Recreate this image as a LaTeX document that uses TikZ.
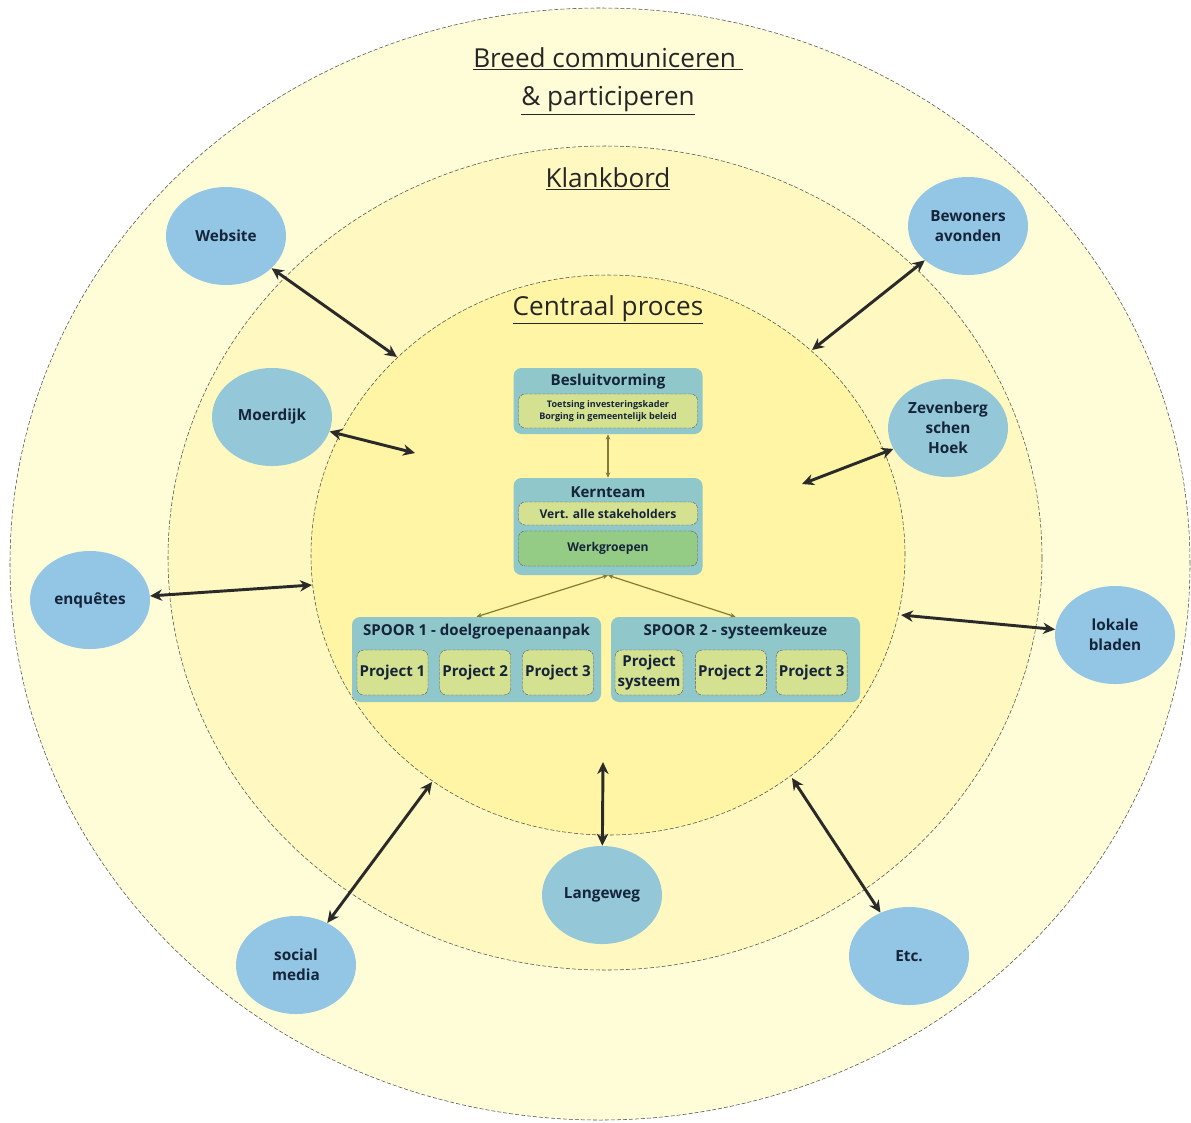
\documentclass[tikz,border=0pt]{standalone}
\usepackage{fontspec}
\setmainfont{Open Sans}
\usetikzlibrary{positioning}
\usetikzlibrary{shapes.geometric}
\usetikzlibrary{arrows.meta}
\definecolor{ringout}{HTML}{FFFDD8}
\definecolor{ringmid}{HTML}{FFF8C0}
\definecolor{ringin}{HTML}{FFF5A4}
\definecolor{chanblue}{HTML}{92C6E4}
\definecolor{chanteal}{HTML}{94C8D8}
\definecolor{navy}{HTML}{16243A}
\definecolor{arrgray}{HTML}{2A2A2A}
\definecolor{olivelnk}{HTML}{877A36}
\definecolor{boxteal}{HTML}{8FC7CA}
\definecolor{subgreen}{HTML}{D4E190}
\definecolor{werkgreen}{HTML}{94CC86}
\tikzset{ring/.style={draw=black!70,dashed,dash pattern=on 3pt off 1.5pt,line width=0.4pt}}
\tikzset{ttl/.style={font=\fontsize{19.6}{29}\selectfont,text=black!85,align=center}}
\tikzset{chan/.style={ellipse,fill=chanblue,minimum width=90pt,minimum height=73.5pt,inner sep=0pt,align=center,font=\fontsize{11.5}{15}\selectfont\bfseries,text=navy}}
\tikzset{arr/.style={arrows={Stealth[length=9pt,width=8.5pt]-Stealth[length=9pt,width=8.5pt]},line width=2.2pt,draw=arrgray}}
\tikzset{lnk/.style={arrows={Stealth[length=4pt,width=3.5pt]-Stealth[length=4pt,width=3.5pt]},line width=0.9pt,draw=olivelnk}}
\tikzset{box/.style={fill=boxteal,rounded corners=6pt,inner sep=0pt}}
\tikzset{hd/.style={font=\fontsize{11.3}{14.5}\selectfont\bfseries,text=navy,align=center}}
\tikzset{sub/.style={draw=black!65,dashed,dash pattern=on 2.5pt off 0.8pt,line width=0.3pt,fill=subgreen,rounded corners=5pt,inner sep=0pt,align=center,text=navy}}
\tikzset{proj/.style={sub,hd,minimum width=53.25pt,minimum height=33.75pt}}

\begin{document}
\begin{tikzpicture}[x=0.75pt,y=-0.75pt]
\fill[white] (0,0) rectangle (1191,1122);
\useasboundingbox (0,0) rectangle (1191,1122);

% rings
\draw[ring,fill=ringout] (600,564) ellipse [x radius=442.5pt,y radius=417pt];
\draw[ring,fill=ringmid] (605,558) ellipse [x radius=327.75pt,y radius=309pt];
\draw[ring,fill=ringin] (608,555) ellipse [x radius=222.75pt,y radius=210pt];

\node[ttl] (breed) at (608,81) {\underline{Breed communiceren\ }\\\underline{\& participeren}};
\node[ttl] (klank) at (608,179) {\underline{Klankbord}};
\node[ttl] (centr) at (608,310) {\underline{Centraal proces}};

% central process
\node[box,minimum width=141.75pt,minimum height=49.5pt] (besl) at (608,401) {};
\node[hd] (beslT) at (608,382) {Besluitvorming};
\node[sub,minimum width=134.25pt,minimum height=25.5pt,font=\fontsize{6.8}{8.5}\selectfont\bfseries] (beslS) at (608,411) {Toetsing investeringskader\\Borging in gemeentelijk beleid};

\node[box,minimum width=141.75pt,minimum height=72.75pt] (kern) at (608,526.5) {};
\node[hd] (kernT) at (608,492) {Kernteam};
\node[sub,minimum width=134.25pt,minimum height=17.25pt,font=\fontsize{9.1}{11}\selectfont\bfseries] (vert) at (608,513.5) {Vert. alle stakeholders};
\node[sub,fill=werkgreen,minimum width=134.25pt,minimum height=26.25pt,font=\fontsize{9.1}{11}\selectfont\bfseries] (werk) at (608,548.5) {Werkgroepen};

\node[box,minimum width=186.75pt,minimum height=63.75pt] (sp1) at (476.5,659.5) {};
\node[hd] (sp1T) at (476.5,632) {SPOOR 1 - doelgroepenaanpak};
\node[proj] (p1a) at (392.5,672.5) {Project 1};
\node[proj,right=8.5pt of p1a] (p1b) {Project 2};
\node[proj,right=8.5pt of p1b] (p1c) {Project 3};

\node[box,minimum width=186.75pt,minimum height=63.75pt] (sp2) at (735.5,659.5) {};
\node[hd] (sp2T) at (735.5,632) {SPOOR 2 - systeemkeuze};
\node[proj,minimum width=51pt] (p2a) at (649,672.5) {Project\\systeem};
\node[proj,right=9pt of p2a] (p2b) {Project 2};
\node[proj,right=7pt of p2b] (p2c) {Project 3};

\draw[lnk] (besl) -- (kern);
\draw[lnk] (kern.south) -- (sp1.north);
\draw[lnk] (kern.south) -- (sp2.north);

% channels
\node[chan] (web) at (226,236) {Website};
\node[chan] (bew) at (968,226) {Bewoners\\avonden};
\node[chan,fill=chanteal] (moe) at (272,417) {Moerdijk};
\node[chan,fill=chanteal] (zev) at (948,428) {Zevenberg\\schen\\Hoek};
\node[chan] (enq) at (90,600) {enquêtes};
\node[chan] (lok) at (1115,635) {lokale\\bladen};
\node[chan,fill=chanteal] (lan) at (602,895) {Langeweg};
\node[chan] (soc) at (296,965) {social\\media};
\node[chan] (etc) at (909,956) {Etc.};

\coordinate (webEnd) at (397,357);
\coordinate (bewEnd) at (812,350);
\coordinate (moeEnd) at (415,453);
\coordinate (zevEnd) at (802,484);
\coordinate (enqEnd) at (312,585);
\coordinate (lokEnd) at (901,615);
\coordinate (lanEnd) at (603,762);
\coordinate (socEnd) at (432,782);
\coordinate (etcEnd) at (792,778);

\draw[arr] (web) -- (webEnd);
\draw[arr] (bew) -- (bewEnd);
\draw[arr] (moe) -- (moeEnd);
\draw[arr] (zev) -- (zevEnd);
\draw[arr] (enq) -- (enqEnd);
\draw[arr] (lok) -- (lokEnd);
\draw[arr] (lan) -- (lanEnd);
\draw[arr] (soc) -- (socEnd);
\draw[arr] (etc) -- (etcEnd);
\end{tikzpicture}
\end{document}
